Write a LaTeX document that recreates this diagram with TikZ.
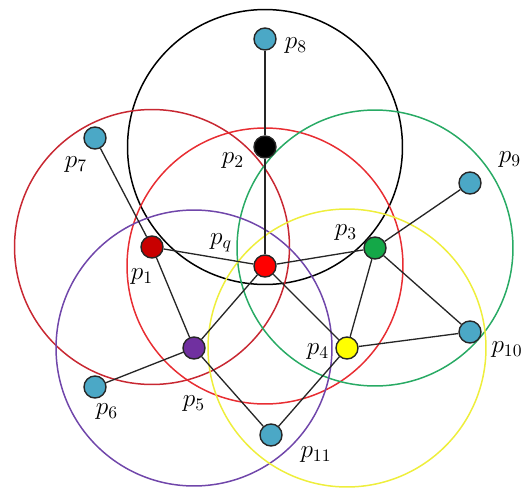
\documentclass[tikz,border=0pt]{standalone}
\usepackage{tikz}
\usetikzlibrary{backgrounds}
\definecolor{SkyNode}  {RGB}{75, 168, 198}
\definecolor{DkRed}    {RGB}{200,  0,   0}
\definecolor{BrRed}    {RGB}{255,  0,   0}
\definecolor{GrNode}   {RGB}{20, 168,  72}
\definecolor{PurNode}  {RGB}{112, 48, 160}
\definecolor{YelNode}  {RGB}{255, 255,  0}
\definecolor{RingDkRed}{RGB}{200, 40,  50}
\definecolor{RingRed}  {RGB}{232, 45,  50}
\definecolor{RingGreen}{RGB}{40, 170, 100}
\definecolor{RingPur}  {RGB}{112, 70, 170}
\definecolor{RingYel}  {RGB}{238, 238, 60}

\begin{document}
\begin{tikzpicture}[x=0.02cm, y=-0.02cm,
  pt/.style={circle, draw=black!85, line width=0.8pt, inner sep=0pt,
             minimum size=0.44cm},
  leaf/.style={pt, fill=SkyNode},
  ring/.style={line width=0.85pt},
  link/.style={black!85, line width=0.75pt},
  lbl/.style={font=\fontsize{14}{16}\selectfont, inner sep=0pt}
]
  \useasboundingbox (0,0) rectangle (524,490);

  %% cluster heads
  \node[pt, fill=black]   (p2) at (265,147) {};
  \node[pt, fill=DkRed]   (p1) at (152,247) {};
  \node[pt, fill=BrRed]   (pq) at (265,266) {};
  \node[pt, fill=GrNode]  (p3) at (375,248) {};
  \node[pt, fill=PurNode] (p5) at (194,348) {};
  \node[pt, fill=YelNode] (p4) at (347,348) {};

  %% leaf sensors
  \node[leaf] (p8)  at (265,39)  {};
  \node[leaf] (p7)  at (95,138)  {};
  \node[leaf] (p9)  at (470,183) {};
  \node[leaf] (p10) at (470,332) {};
  \node[leaf] (p6)  at (95,387)  {};
  \node[leaf] (p11) at (271,435) {};

  %% names
  \node[lbl] (t8)  at (296,46)  {$p_8$};
  \node[lbl] (t2)  at (233,161) {$p_2$};
  \node[lbl] (t7)  at (76,165)  {$p_7$};
  \node[lbl] (t9)  at (510,160) {$p_9$};
  \node[lbl] (t1)  at (142,277) {$p_1$};
  \node[lbl] (tq)  at (221,243) {$p_q$};
  \node[lbl] (t3)  at (346,233) {$p_3$};
  \node[lbl] (t4)  at (318,352) {$p_4$};
  \node[lbl] (t10) at (507,350) {$p_{10}$};
  \node[lbl] (t5)  at (194,404) {$p_5$};
  \node[lbl] (t6)  at (107,412) {$p_6$};
  \node[lbl] (t11) at (316,455) {$p_{11}$};

  \begin{scope}[on background layer]
    %% coverage rings
    \draw[ring, black]     (p2) circle[radius=2.75cm];
    \draw[ring, RingDkRed] (p1) circle[radius=2.75cm];
    \draw[ring, RingRed]   (pq) circle[radius=2.76cm];
    \draw[ring, RingGreen] (p3) circle[radius=2.76cm];
    \draw[ring, RingPur]   (p5) circle[radius=2.76cm];
    \draw[ring, RingYel]   (p4) circle[radius=2.78cm];

    %% links
    \draw[link] (p8) -- (p2);
    \draw[link] (p2) -- (pq);
    \draw[link] (p7) -- (p1);
    \draw[link] (p1) -- (pq);
    \draw[link] (p1) -- (p5);
    \draw[link] (pq) -- (p3);
    \draw[link] (pq) -- (p5);
    \draw[link] (pq) -- (p4);
    \draw[link] (p3) -- (p9);
    \draw[link] (p3) -- (p4);
    \draw[link] (p3) -- (p10);
    \draw[link] (p4) -- (p10);
    \draw[link] (p4) -- (p11);
    \draw[link] (p5) -- (p11);
    \draw[link] (p5) -- (p6);
  \end{scope}
\end{tikzpicture}
\end{document}
